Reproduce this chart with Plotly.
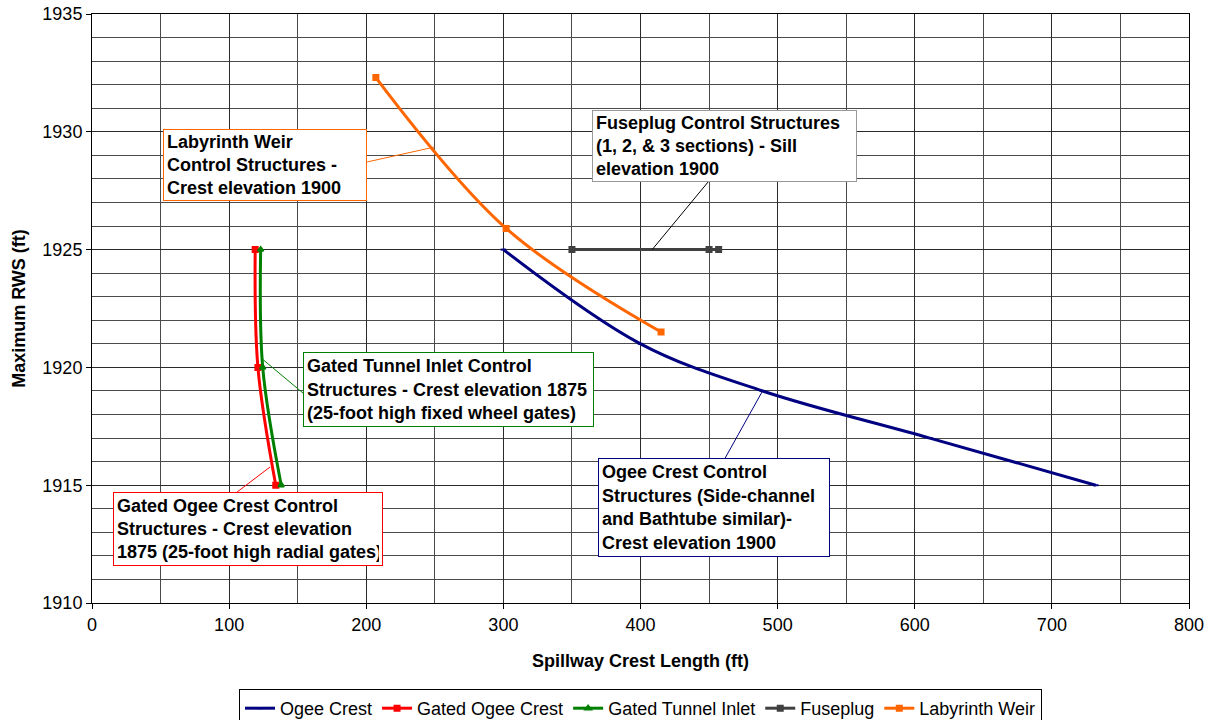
import plotly.graph_objects as go

# Spillway crest length (ft) vs maximum reservoir water surface (ft)
ogee_len = [300, 400, 489, 611, 732]
ogee_rws = [1925, 1921, 1919, 1917, 1915]

gated_ogee_len = [119, 121, 134]
gated_ogee_rws = [1925, 1920, 1915]

tunnel_len = [123, 124.5, 138]
tunnel_rws = [1925, 1920, 1915]

fuseplug_len = [350, 450, 457]
fuseplug_rws = [1925, 1925, 1925]

labyrinth_len = [207, 302, 415]
labyrinth_rws = [1932.3, 1925.9, 1921.5]

FONT = "Liberation Sans, Arial, sans-serif"

series = [
    ("Ogee Crest", ogee_len, ogee_rws, "#000080", "line-ew", 4),
    ("Gated Ogee Crest", gated_ogee_len, gated_ogee_rws, "#FF0000", "square", 5),
    ("Gated Tunnel Inlet", tunnel_len, tunnel_rws, "#008000", "triangle-up", 5),
    ("Fuseplug", fuseplug_len, fuseplug_rws, "#404040", "square", 5),
    ("Labyrinth Weir", labyrinth_len, labyrinth_rws, "#FF6600", "square", 5),
]

fig = go.Figure()
for name, xs, ys, color, sym, msize in series:
    fig.add_trace(go.Scatter(
        x=xs, y=ys, name=name, mode="lines+markers",
        line=dict(color=color, width=3, shape="spline", smoothing=1.0),
        marker=dict(color=color, size=msize, symbol=sym,
                    line=dict(color=color, width=2)),
    ))

# Callout boxes: (text, x, y of top-left corner, width px, height px, colour)
callouts = [
    ("Labyrinth Weir<br>Control Structures -<br>Crest elevation 1900",
     51.8, 1930.12, 204, 72, "#FF6600"),
    ("Fuseplug Control Structures<br>(1, 2, & 3 sections) - Sill<br>elevation 1900",
     364.6, 1930.93, 265, 72, "#999999"),
    ("Gated Tunnel Inlet Control<br>Structures - Crest elevation 1875<br>(25-foot high fixed wheel gates)",
     153.9, 1920.65, 291, 75, "#008000"),
    ("Gated Ogee Crest Control<br>Structures - Crest elevation<br>1875 (25-foot high radial gates)",
     15.3, 1914.71, 270, 74, "#FF0000"),
    ("Ogee Crest Control<br>Structures (Side-channel<br>and Bathtube similar)-<br>Crest elevation 1900",
     369.0, 1916.15, 232, 99, "#000080"),
]

# Leader lines from each box to its curve: (x0, y0, x1, y1, colour)
leaders = [
    (200.6, 1928.72, 249.5, 1929.35, "#FF6600"),
    (449.3, 1927.87, 408.5, 1925.0, "#000000"),
    (153.9, 1918.91, 123.3, 1920.4, "#008000"),
    (105.8, 1914.71, 129.8, 1915.77, "#FF0000"),
    (461.7, 1916.15, 489.4, 1919.04, "#000080"),
]

for x0, y0, x1, y1, c in leaders:
    fig.add_shape(type="line", xref="x", yref="y", x0=x0, y0=y0, x1=x1, y1=y1,
                  line=dict(color=c, width=1))

for text, x, y, w, h, c in callouts:
    fig.add_annotation(
        text="<b>" + text + "</b>", x=x, y=y, xref="x", yref="y",
        xanchor="left", yanchor="top", align="left", valign="middle",
        showarrow=False, width=w - 8, height=h - 8,
        bgcolor="white", bordercolor=c, borderwidth=1, borderpad=3,
        font=dict(family=FONT, size=18, color="black"),
    )

fig.update_layout(
    width=1211, height=720,
    margin=dict(l=92, r=22, t=14, b=117, autoexpand=False),
    paper_bgcolor="white", plot_bgcolor="white",
    font=dict(family=FONT, size=18, color="black"),
    showlegend=True,
    legend=dict(
        orientation="h", x=0.5, xanchor="center", y=-0.146, yanchor="top",
        bordercolor="black", borderwidth=1, bgcolor="white",
        font=dict(family=FONT, size=18, color="black"),
        itemwidth=30, tracegroupgap=0,
    ),
)

fig.update_xaxes(
    range=[0, 800], dtick=100, tick0=0,
    showline=True, linecolor="black", linewidth=1, mirror=True,
    ticks="outside", ticklen=5, tickcolor="black",
    showgrid=True, gridcolor="#2a2a2a", gridwidth=1,
    minor=dict(dtick=50, showgrid=True, gridcolor="#4a4a4a", ticks=""),
    zeroline=False,
    tickfont=dict(family=FONT, size=18, color="black"),
    title=dict(text="<b>Spillway Crest Length (ft)</b>", standoff=20,
               font=dict(family=FONT, size=18, color="black")),
)
fig.update_yaxes(
    range=[1910, 1935], dtick=5, tick0=1910,
    showline=True, linecolor="black", linewidth=1, mirror=True,
    ticks="outside", ticklen=5, tickcolor="black",
    showgrid=True, gridcolor="#2a2a2a", gridwidth=1,
    minor=dict(dtick=1, showgrid=True, gridcolor="#4a4a4a", ticks=""),
    zeroline=False,
    tickfont=dict(family=FONT, size=18, color="black"),
    title=dict(text="<b>Maximum RWS (ft)</b>", standoff=12,
               font=dict(family=FONT, size=18, color="black")),
)

fig.write_html("out.html")
